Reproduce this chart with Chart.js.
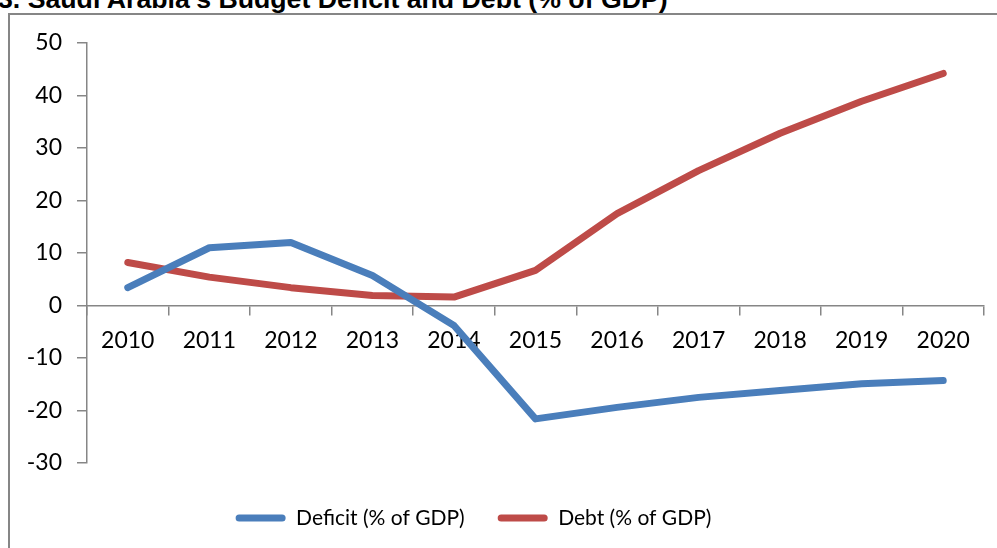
<!DOCTYPE html>
<html>
<head>
<meta charset="utf-8">
<script src="https://cdn.jsdelivr.net/npm/chart.js@4"></script>
<style>
  html, body { margin: 0; padding: 0; background: #fff; overflow: hidden; }
  body { width: 997px; height: 548px; position: relative; }
  #title {
    position: absolute; left: -2px; top: -14px; white-space: nowrap;
    font: bold 26.7px "Liberation Sans", Arial, sans-serif; line-height: 27px; color: #000;
  }
  #frame {
    position: absolute; left: 8px; top: 13px; width: 1200px; height: 1000px;
    border: 2px solid #868686;
  }
  #wrap { position: absolute; left: -50px; top: 0; width: 1047px; height: 548px; }
</style>
</head>
<body>
<div id="title">3. Saudi Arabia's Budget Deficit and Debt (% of GDP)</div>
<div id="frame"></div>
<div id="wrap"><canvas id="chart"></canvas></div>
<script>
const years = ['2010', '2011', '2012', '2013', '2014', '2015', '2016', '2017', '2018', '2019', '2020'];
const deficit = [3.4, 11.0, 12.0, 5.7, -3.8, -21.6, -19.4, -17.5, -16.2, -14.9, -14.3];
const debt = [8.2, 5.4, 3.4, 1.9, 1.6, 6.7, 17.5, 25.7, 32.8, 38.9, 44.2];
const yTicks = { min: -30, max: 50, step: 10 };

const axisFont = { family: 'Lato', size: 23 };
const gray = '#868686';

const ctx = document.getElementById('chart').getContext('2d');
new Chart(ctx, {
  type: 'line',
  data: {
    labels: years,
    datasets: [
      {
        label: 'Deficit (% of GDP)',
        data: deficit,
        borderColor: '#4A7EBB',
        backgroundColor: '#4A7EBB',
        borderWidth: 7,
        borderCapStyle: 'round',
        borderJoinStyle: 'round',
        pointRadius: 0,
        tension: 0,
        fill: false,
      },
      {
        label: 'Debt (% of GDP)',
        data: debt,
        borderColor: '#BE4B48',
        backgroundColor: '#BE4B48',
        borderWidth: 7,
        borderCapStyle: 'round',
        borderJoinStyle: 'round',
        pointRadius: 0,
        tension: 0,
        fill: false,
      }
    ]
  },
  options: {
    responsive: true,
    maintainAspectRatio: false,
    animation: false,
    layout: { padding: { left: 13, right: 13, top: 43, bottom: 9.5 } },
    plugins: {
      tooltip: { enabled: false },
      legend: {
        position: 'bottom',
        title: { display: true, text: '', font: { size: 11.5, lineHeight: 1 }, padding: 0 },
        labels: {
          font: { family: 'Lato', size: 21 },
          color: '#000',
          boxWidth: 50,
          boxHeight: 7,
          useBorderRadius: true,
          borderRadius: 3.5,
          padding: 33,
          generateLabels: chart =>
            Chart.defaults.plugins.legend.labels.generateLabels(chart).map(l => ({ ...l, lineWidth: 0 }))
        }
      }
    },
    scales: {
      x: {
        position: { y: 0 },
        offset: true,
        grid: { offset: true, drawOnChartArea: false, drawTicks: true, tickLength: 9, color: gray, lineWidth: 1.5 },
        border: { display: true, color: gray, width: 1.5 },
        ticks: { font: axisFont, color: '#000', padding: 12, maxRotation: 0, autoSkip: false }
      },
      y: {
        min: yTicks.min,
        max: yTicks.max,
        ticks: { stepSize: yTicks.step, font: axisFont, color: '#000', padding: 15 },
        grid: { drawOnChartArea: false, drawTicks: true, tickLength: 10, color: gray, lineWidth: 1.5 },
        border: { display: true, color: gray, width: 1.5 },
        afterFit: s => { s.width = 124; }
      }
    }
  }
});
</script>
</body>
</html>
